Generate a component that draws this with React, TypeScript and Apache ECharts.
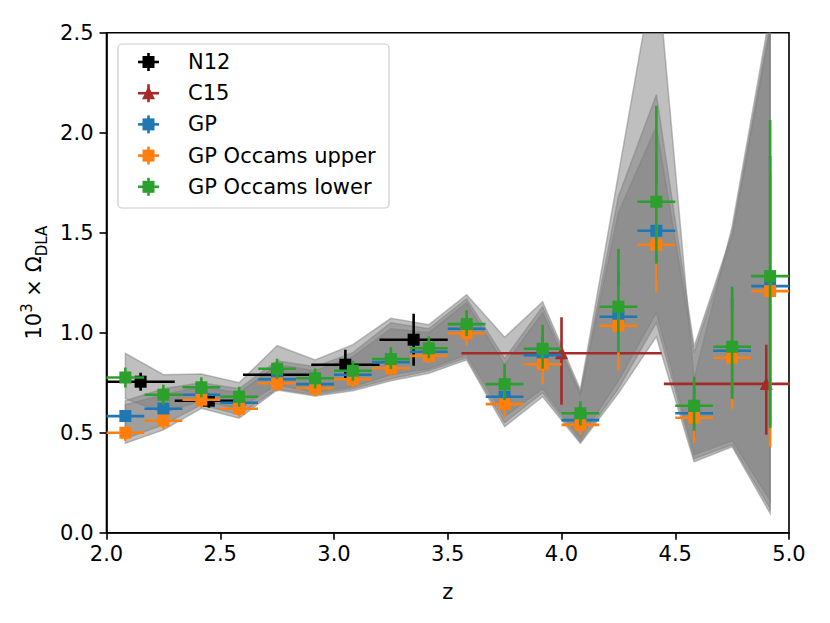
import React, { useEffect, useRef } from "react";
import * as echarts from "echarts";

// ---- data ----
const zCenters = [2.083, 2.25, 2.417, 2.583, 2.75, 2.917, 3.083, 3.25, 3.417, 3.583, 3.75, 3.917, 4.083, 4.25, 4.417, 4.583, 4.75, 4.917];
const gpXErr = 0.083;

const gpVal = [0.583, 0.62, 0.69, 0.65, 0.767, 0.743, 0.79, 0.852, 0.905, 1.02, 0.68, 0.888, 0.563, 1.08, 1.51, 0.597, 0.91, 1.233];
const gpErrLo = [0.03, 0.03, 0.03, 0.03, 0.03, 0.03, 0.03, 0.035, 0.035, 0.05, 0.06, 0.09, 0.05, 0.2, 0.25, 0.12, 0.25, 0.7];
const gpErrHi = [0.03, 0.03, 0.03, 0.03, 0.03, 0.03, 0.03, 0.04, 0.04, 0.05, 0.07, 0.09, 0.05, 0.22, 0.35, 0.13, 0.26, 0.65];

const upperVal = [0.50, 0.56, 0.665, 0.62, 0.747, 0.722, 0.767, 0.822, 0.884, 0.997, 0.643, 0.842, 0.539, 1.035, 1.44, 0.575, 0.875, 1.208];
const upperErrLo = [0.04, 0.04, 0.04, 0.04, 0.04, 0.04, 0.04, 0.04, 0.035, 0.06, 0.065, 0.10, 0.05, 0.225, 0.24, 0.125, 0.255, 0.78];
const upperErrHi = [0.03, 0.03, 0.03, 0.03, 0.03, 0.03, 0.03, 0.04, 0.04, 0.05, 0.07, 0.09, 0.05, 0.2, 0.3, 0.12, 0.25, 0.6];

const lowerVal = [0.776, 0.69, 0.727, 0.68, 0.82, 0.772, 0.81, 0.868, 0.922, 1.043, 0.743, 0.92, 0.597, 1.13, 1.655, 0.635, 0.93, 1.283];
const lowerErrLo = [0.05, 0.05, 0.05, 0.05, 0.05, 0.05, 0.05, 0.05, 0.05, 0.06, 0.08, 0.10, 0.06, 0.23, 0.31, 0.125, 0.26, 0.76];
const lowerErrHi = [0.05, 0.05, 0.05, 0.05, 0.05, 0.05, 0.05, 0.06, 0.06, 0.07, 0.10, 0.12, 0.06, 0.29, 0.48, 0.145, 0.30, 0.78];

// shaded bands (one per GP variant)
const bandLowerLo = [0.67, 0.60, 0.66, 0.62, 0.74, 0.70, 0.73, 0.79, 0.82, 0.89, 0.58, 0.72, 0.47, 0.76, 1.10, 0.39, 0.46, 0.16];
const bandLowerHi = [0.897, 0.79, 0.793, 0.75, 0.935, 0.864, 0.94, 1.072, 1.04, 1.19, 0.977, 1.155, 0.714, 1.79, 2.87, 0.77, 1.53, 2.6];
const bandGpLo = [0.47, 0.54, 0.64, 0.59, 0.72, 0.69, 0.72, 0.77, 0.81, 0.875, 0.55, 0.70, 0.455, 0.72, 1.05, 0.37, 0.44, 0.12];
const bandGpHi = [0.66, 0.72, 0.75, 0.72, 0.86, 0.83, 0.90, 1.05, 1.02, 1.17, 0.87, 1.13, 0.70, 1.68, 2.19, 0.93, 1.50, 2.55];
const bandUpperLo = [0.447, 0.514, 0.622, 0.572, 0.714, 0.684, 0.71, 0.76, 0.797, 0.864, 0.53, 0.68, 0.447, 0.697, 0.98, 0.355, 0.43, 0.097];
const bandUpperHi = [0.64, 0.69, 0.73, 0.70, 0.84, 0.81, 0.88, 1.02, 1.0, 1.15, 0.84, 1.10, 0.69, 1.60, 2.03, 0.90, 1.48, 2.52];

const n12Z = [2.15, 2.45, 2.75, 3.05, 3.35];
const n12Val = [0.755, 0.66, 0.79, 0.84, 0.965];
const n12Err = [0.045, 0.035, 0.04, 0.075, 0.13];
const n12XErr = [0.15, 0.15, 0.15, 0.15, 0.15];

const c15Z = [4.0, 4.9];
const c15Val = [0.897, 0.744];
const c15ErrLo = [0.257, 0.254];
const c15ErrHi = [0.18, 0.196];
const c15XErr = [0.44, 0.45];

const xTicks = [2.0, 2.5, 3.0, 3.5, 4.0, 4.5, 5.0];
const yTicks = [0.0, 0.5, 1.0, 1.5, 2.0, 2.5];

const legendNames = ["N12", "C15", "GP", "GP Occams upper", "GP Occams lower"];
const legendColors = ["#000000", "#a52a2a", "#1f77b4", "#ff7f0e", "#2ca02c"];
const legendMarkers = ["square", "triangle", "square", "square", "square"];

const FONT = "DejaVu Sans";
const FS = 21;

function markerShape(marker: string, cx: number, cy: number, color: string) {
  if (marker === "triangle") {
    return {
      type: "polygon",
      shape: { points: [[cx, cy - 7], [cx - 6.5, cy + 6], [cx + 6.5, cy + 6]] },
      style: { fill: color },
    };
  }
  return { type: "rect", shape: { x: cx - 6, y: cy - 6, width: 12, height: 12 }, style: { fill: color } };
}

function errSeries(name: string, color: string, xs: number[], ys: number[], lo: number[], hi: number[], xerr: number[], marker: string) {
  return {
    type: "custom",
    name,
    clip: true,
    silent: true,
    itemStyle: { color },
    data: xs.map((x, i) => [x, ys[i], ys[i] - lo[i], ys[i] + hi[i], x - xerr[i], x + xerr[i]]),
    encode: { x: [0, 4, 5], y: [1, 2, 3] },
    renderItem: (_p: any, api: any) => {
      const c = api.coord([api.value(0), api.value(1)]);
      const b = api.coord([api.value(0), api.value(2)]);
      const t = api.coord([api.value(0), api.value(3)]);
      const l = api.coord([api.value(4), api.value(1)]);
      const r = api.coord([api.value(5), api.value(1)]);
      const ls = { stroke: color, lineWidth: 2.6, lineCap: "butt" };
      return {
        type: "group",
        children: [
          { type: "line", shape: { x1: l[0], y1: l[1], x2: r[0], y2: r[1] }, style: ls },
          { type: "line", shape: { x1: b[0], y1: b[1], x2: t[0], y2: t[1] }, style: ls },
          markerShape(marker, c[0], c[1], color),
        ],
      };
    },
  };
}

function bandSeries(lo: number[], hi: number[]) {
  return {
    type: "custom",
    clip: true,
    silent: true,
    data: [[zCenters[0], lo[0]]],
    encode: { x: 0, y: 1 },
    renderItem: (_p: any, api: any) => {
      const pts: number[][] = [];
      for (let i = 0; i < zCenters.length; i++) pts.push(api.coord([zCenters[i], hi[i]]));
      for (let i = zCenters.length - 1; i >= 0; i--) pts.push(api.coord([zCenters[i], lo[i]]));
      return {
        type: "polygon",
        shape: { points: pts },
        style: { fill: "rgba(128,128,128,0.5)", stroke: "rgba(128,128,128,0.5)", lineWidth: 1.5 },
      };
    },
  };
}

function legendGraphics() {
  const x0 = 118, y0 = 44, w = 271, h = 164;
  const children: any[] = [
    { type: "rect", shape: { x: x0, y: y0, width: w, height: h, r: 4 }, style: { fill: "rgba(255,255,255,0.8)", stroke: "#cccccc", lineWidth: 1.2 } },
  ];
  legendNames.forEach((name, i) => {
    const cy = 62 + i * 31.2;
    const cx = 148.5;
    const color = legendColors[i];
    const ls = { stroke: color, lineWidth: 2.6 };
    children.push({ type: "line", shape: { x1: cx - 10.5, y1: cy, x2: cx + 10.5, y2: cy }, style: ls });
    children.push({ type: "line", shape: { x1: cx, y1: cy - 9, x2: cx, y2: cy + 9 }, style: ls });
    children.push(markerShape(legendMarkers[i], cx, cy, color));
    children.push({
      type: "text",
      x: 188,
      y: cy,
      style: { text: name, fill: "#000", font: `${FS}px '${FONT}'`, verticalAlign: "middle", align: "left" },
    });
  });
  return [{ type: "group", children }];
}

export default function App() {
  const ref = useRef<HTMLDivElement>(null);
  useEffect(() => {
    if (!ref.current) return;
    const chart = echarts.init(ref.current, undefined, { renderer: "svg" });
    const axisCommon = {
      axisLine: { show: true, lineStyle: { color: "#000", width: 1.6 } },
      axisTick: { show: true, inside: false, length: 7, lineStyle: { color: "#000", width: 1.6 } },
      splitLine: { show: false },
    };
    chart.setOption({
      animation: false,
      backgroundColor: "#fff",
      textStyle: { fontFamily: FONT },
      grid: { left: 106.5, right: 41, top: 32.7, bottom: 90.3, show: true, borderColor: "#000", borderWidth: 1.6, containLabel: false },
      xAxis: {
        type: "value",
        min: xTicks[0],
        max: xTicks[xTicks.length - 1],
        interval: 0.5,
        ...axisCommon,
        axisLabel: { color: "#000", fontSize: FS, fontFamily: FONT, margin: 11, formatter: (v: number) => v.toFixed(1) },
        name: "z",
        nameLocation: "middle",
        nameGap: 49,
        nameTextStyle: { color: "#000", fontSize: FS, fontFamily: FONT },
      },
      yAxis: {
        type: "value",
        min: yTicks[0],
        max: yTicks[yTicks.length - 1],
        interval: 0.5,
        ...axisCommon,
        axisLabel: { color: "#000", fontSize: FS, fontFamily: FONT, margin: 13, formatter: (v: number) => v.toFixed(1) },
        name: "{a|10}{sup|3}{a| × Ω}{sub|DLA}",
        nameLocation: "middle",
        nameGap: 46,
        nameRotate: 90,
        nameTextStyle: {
          color: "#000",
          fontFamily: FONT,
          fontSize: FS,
          rich: {
            a: { fontSize: FS, fontFamily: FONT, color: "#000", lineHeight: 30 },
            sup: { fontSize: 15, fontFamily: FONT, color: "#000", lineHeight: 14, verticalAlign: "top" },
            sub: { fontSize: 15, fontFamily: FONT, color: "#000", lineHeight: 14, verticalAlign: "bottom" },
          },
        },
      },
      graphic: legendGraphics(),
      series: [
        bandSeries(bandLowerLo, bandLowerHi),
        bandSeries(bandGpLo, bandGpHi),
        bandSeries(bandUpperLo, bandUpperHi),
        errSeries("N12", legendColors[0], n12Z, n12Val, n12Err, n12Err, n12XErr, "square"),
        errSeries("C15", legendColors[1], c15Z, c15Val, c15ErrLo, c15ErrHi, c15XErr, "triangle"),
        errSeries("GP", legendColors[2], zCenters, gpVal, gpErrLo, gpErrHi, zCenters.map(() => gpXErr), "square"),
        errSeries("GP Occams upper", legendColors[3], zCenters, upperVal, upperErrLo, upperErrHi, zCenters.map(() => gpXErr), "square"),
        errSeries("GP Occams lower", legendColors[4], zCenters, lowerVal, lowerErrLo, lowerErrHi, zCenters.map(() => gpXErr), "square"),
      ],
    });
    return () => chart.dispose();
  }, []);
  return <div ref={ref} style={{ position: "absolute", left: 0, top: 0, width: 830, height: 623 }} />;
}
